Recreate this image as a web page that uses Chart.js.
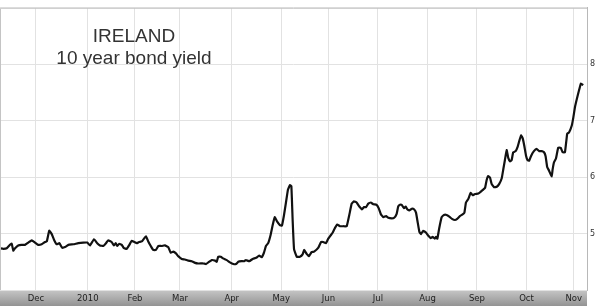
<!DOCTYPE html>
<html>
<head>
<meta charset="utf-8">
<script src="https://cdn.jsdelivr.net/npm/chart.js@4"></script>
<style>
  body { margin: 0; background: #fff; }
  canvas { display: block; }
</style>
</head>
<body>
<canvas id="chart" width="600" height="306"></canvas>
<script>
// trading-day position (0 = 9 Nov 2009) and yield in %
const session = [
  0.0, 1.5, 3.0, 4.4, 5.2, 5.9, 6.7, 8.1, 9.6, 11.1, 12.6, 14.1, 15.6, 17.0, 18.5, 20.0,
  20.8, 21.9, 23.0, 24.0, 25.2, 26.4, 27.6, 28.9, 30.4, 32.6, 34.8, 37.0, 38.8, 40.0, 41.8,
  43.2, 44.4, 45.9, 47.1, 48.1, 49.6, 50.7, 51.4, 52.1, 53.0, 54.1, 55.1, 56.3, 57.5, 58.5,
  59.7, 60.8, 61.8, 63.0, 64.0, 64.9, 65.9, 67.0, 68.1, 69.3, 70.4, 71.9, 73.3, 74.8, 75.9,
  77.0, 78.2, 79.2, 80.8, 82.2, 83.7, 85.2, 86.7, 88.1, 90.4, 91.6, 92.6, 94.1, 95.6, 96.3,
  97.0, 98.1, 99.2, 100.8, 102.2, 103.7, 104.9, 105.9, 107.4, 108.4, 109.3, 110.8, 112.3,
  113.8, 115.2, 116.3, 117.3, 118.2, 119.2, 120.3, 121.2, 122.1, 123.2, 124.4, 125.3, 126.2,
  127.1, 128.0, 128.9, 129.5, 130.1, 130.7, 131.9, 133.3, 134.5, 135.2, 136.3, 137.3, 138.5,
  139.6, 141.5, 142.7, 143.7, 144.9, 145.9, 147.0, 147.9, 148.9, 149.9, 151.1, 152.6, 154.1,
  155.2, 156.3, 157.3, 158.5, 159.7, 160.9, 161.8, 162.7, 163.7, 164.8, 165.9, 167.4, 168.3,
  169.3, 170.4, 171.6, 172.6, 174.1, 175.2, 176.3, 177.0, 177.8, 178.5, 179.6, 180.3, 181.0,
  181.9, 183.0, 184.0, 184.9, 185.6, 186.4, 187.1, 188.1, 189.3, 190.4, 191.4, 192.3, 193.2,
  193.8, 194.4, 195.2, 196.3, 197.3, 198.5, 199.7, 200.9, 202.2, 203.2, 204.4, 205.6, 206.4,
  207.1, 208.1, 209.2, 210.1, 211.1, 212.6, 213.6, 214.8, 215.6, 216.3, 217.0, 217.8, 218.5,
  219.6, 220.8, 221.9, 223.0, 223.7, 224.4, 225.2, 225.9, 226.7, 227.4, 228.1, 229.2, 230.1,
  230.8, 231.6, 232.3, 233.0, 233.8, 234.5, 235.2, 236.1, 237.3, 238.5, 239.7, 240.8, 241.8,
  242.5, 243.2, 244.1, 245.2, 245.6, 246.2, 247.1, 248.1, 249.2, 250.1, 251.1, 252.1, 252.9,
  254.1, 254.8, 255.6, 256.6, 257.5, 258.2, 259.2
];
const yieldPct = [
  4.74, 4.73, 4.74, 4.80, 4.82, 4.70, 4.74, 4.79, 4.80, 4.80, 4.84, 4.88, 4.84, 4.80, 4.81, 4.85,
  4.86, 5.05, 4.99, 4.89, 4.81, 4.83, 4.75, 4.76, 4.80, 4.81, 4.83, 4.84, 4.84, 4.79, 4.90,
  4.83, 4.79, 4.78, 4.83, 4.88, 4.85, 4.79, 4.83, 4.78, 4.82, 4.80, 4.74, 4.73, 4.80, 4.87,
  4.85, 4.83, 4.85, 4.86, 4.91, 4.95, 4.86, 4.78, 4.71, 4.71, 4.78, 4.78, 4.79, 4.76, 4.66,
  4.68, 4.65, 4.60, 4.55, 4.54, 4.52, 4.51, 4.48, 4.47, 4.47, 4.46, 4.49, 4.53, 4.52, 4.50,
  4.59, 4.59, 4.56, 4.53, 4.49, 4.46, 4.46, 4.50, 4.51, 4.51, 4.53, 4.51, 4.55,
  4.57, 4.61, 4.58, 4.66, 4.78, 4.83, 4.98, 5.15, 5.29, 5.21, 5.15, 5.14, 5.32,
  5.55, 5.78, 5.86, 5.84, 5.21, 4.72, 4.59, 4.59, 4.63, 4.71, 4.64, 4.60, 4.67,
  4.68, 4.75, 4.85, 4.85, 4.83, 4.91, 4.97, 5.02, 5.10, 5.16, 5.13, 5.13, 5.13,
  5.32, 5.53, 5.57, 5.55, 5.48, 5.43, 5.47, 5.47, 5.53, 5.55, 5.52, 5.51, 5.45,
  5.34, 5.29, 5.31, 5.28, 5.27, 5.28, 5.35, 5.48, 5.51, 5.51, 5.45, 5.48, 5.43,
  5.41, 5.44, 5.43, 5.37, 5.21, 5.03, 4.99, 5.05, 5.02, 4.96, 4.92, 4.94, 4.91,
  4.94, 4.91, 5.09, 5.29, 5.33, 5.33, 5.30, 5.26, 5.24, 5.26, 5.31, 5.34, 5.37,
  5.55, 5.61, 5.72, 5.68, 5.70, 5.71, 5.74, 5.78, 5.81, 5.95, 6.02, 5.99, 5.88,
  5.82, 5.83, 5.88, 5.98, 6.14, 6.30, 6.48, 6.34, 6.28, 6.30, 6.44, 6.46, 6.54,
  6.64, 6.74, 6.69, 6.56, 6.38, 6.30, 6.29, 6.38, 6.46, 6.50, 6.46, 6.46, 6.44,
  6.37, 6.18, 6.11, 6.01, 6.13, 6.26, 6.33, 6.52, 6.52, 6.44, 6.44, 6.77, 6.79,
  6.91, 7.05, 7.25, 7.42, 7.56, 7.66, 7.63
];

// first trading day of each month, as session number
const monthStarts = [16, 39, 60, 80, 103, 125, 146, 168, 190, 212, 234, 255];
const monthLabels = ['Dec', '2010', 'Feb', 'Mar', 'Apr', 'May', 'Jun', 'Jul', 'Aug', 'Sep', 'Oct', 'Nov'];
const yieldTicks = [5, 6, 7, 8];

const titleLines = ['IRELAND', '10 year bond yield'];

const frame = {
  id: 'frame',
  beforeDraw(chart) {
    const { ctx, chartArea: a } = chart;
    const g = ctx.createLinearGradient(0, a.bottom, 0, chart.height);
    g.addColorStop(0, '#c6c6c6');
    g.addColorStop(1, '#939393');
    ctx.save();
    ctx.fillStyle = g;
    ctx.fillRect(a.left, a.bottom, a.right - a.left, chart.height - a.bottom);
    ctx.restore();
  },
  afterDraw(chart) {
    const { ctx, chartArea: a } = chart;
    ctx.save();
    ctx.strokeStyle = '#c4c4c4';
    ctx.lineWidth = 1;
    ctx.beginPath();
    ctx.moveTo(a.left + 0.5, a.bottom);
    ctx.lineTo(a.left + 0.5, a.top + 0.5);
    ctx.lineTo(a.right, a.top + 0.5);
    ctx.stroke();

    ctx.fillStyle = '#333';
    ctx.font = '19px "Liberation Sans", Arial, sans-serif';
    ctx.textAlign = 'center';
    ctx.fillText(titleLines[0], 134, 42);
    ctx.fillText(titleLines[1], 134, 64);
    ctx.restore();
  }
};

new Chart(document.getElementById('chart'), {
  type: 'line',
  data: {
    datasets: [{
      data: session.map((s, i) => ({ x: s, y: yieldPct[i] })),
      borderColor: '#111',
      borderWidth: 2.2,
      pointRadius: 0,
      tension: 0.1,
      fill: false
    }]
  },
  options: {
    responsive: false,
    animation: false,
    devicePixelRatio: 1,
    layout: { padding: { top: 1, left: 0, right: 0, bottom: 0 } },
    plugins: { legend: { display: false }, tooltip: { enabled: false } },
    scales: {
      x: {
        type: 'linear',
        min: 0,
        max: 260.9,
        afterBuildTicks: axis => { axis.ticks = monthStarts.map(v => ({ value: v })); },
        afterFit: axis => { axis.height = 16; },
        grid: { color: '#e2e2e2', drawTicks: false },
        border: { display: false },
        ticks: {
          autoSkip: false,
          maxRotation: 0,
          padding: 4,
          color: '#1e1e1e',
          font: { family: '"DejaVu Sans", Verdana, sans-serif', size: 8.5 },
          callback: (v, i) => monthLabels[i]
        }
      },
      y: {
        position: 'right',
        min: 4,
        max: 9,
        afterFit: axis => { axis.width = 13; },
        grid: { color: '#e2e2e2', drawTicks: false },
        border: { color: '#b8b8b8' },
        ticks: {
          stepSize: 1,
          padding: 3,
          color: '#333',
          font: { family: '"DejaVu Sans", Verdana, sans-serif', size: 8 },
          callback: v => yieldTicks.includes(v) ? String(v) : ''
        }
      }
    }
  },
  plugins: [frame]
});
</script>
</body>
</html>
